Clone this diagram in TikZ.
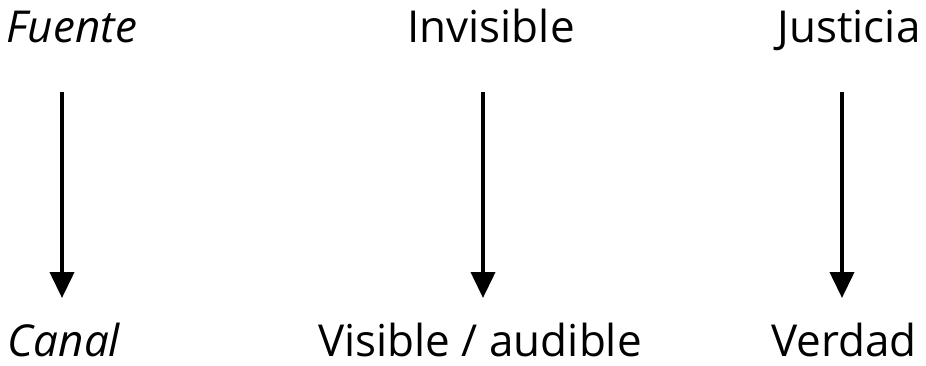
\documentclass[tikz,border=0pt]{standalone}
\usepackage{fontspec}
\setmainfont{Open Sans}
\usetikzlibrary{arrows.meta}
\begin{document}
\begin{tikzpicture}[x=1pt,y=-1pt,
  lbl/.style={font=\fontsize{44}{50}\selectfont, inner sep=0pt, anchor=base},
  arr/.style={line width=4pt, -{Triangle[length=26pt,width=24pt]}}]
\useasboundingbox (0,0) rectangle (926,365);
\node[lbl] (fuente) at (72,42) {\itshape Fuente};
\node[lbl] (invisible) at (491,42) {Invisible};
\node[lbl] (justicia) at (849,42) {Justicia};
\node[lbl] (canal) at (64,356) {\itshape Canal};
\node[lbl] (visible) at (480,356) {Visible / audible};
\node[lbl] (verdad) at (844,356) {Verdad};
\coordinate (a1) at (62,92); \coordinate (b1) at (62,298);
\coordinate (a2) at (483,92); \coordinate (b2) at (483,298);
\coordinate (a3) at (842,92); \coordinate (b3) at (842,298);
\draw[arr] (a1) -- (b1);
\draw[arr] (a2) -- (b2);
\draw[arr] (a3) -- (b3);
\end{tikzpicture}
\end{document}
